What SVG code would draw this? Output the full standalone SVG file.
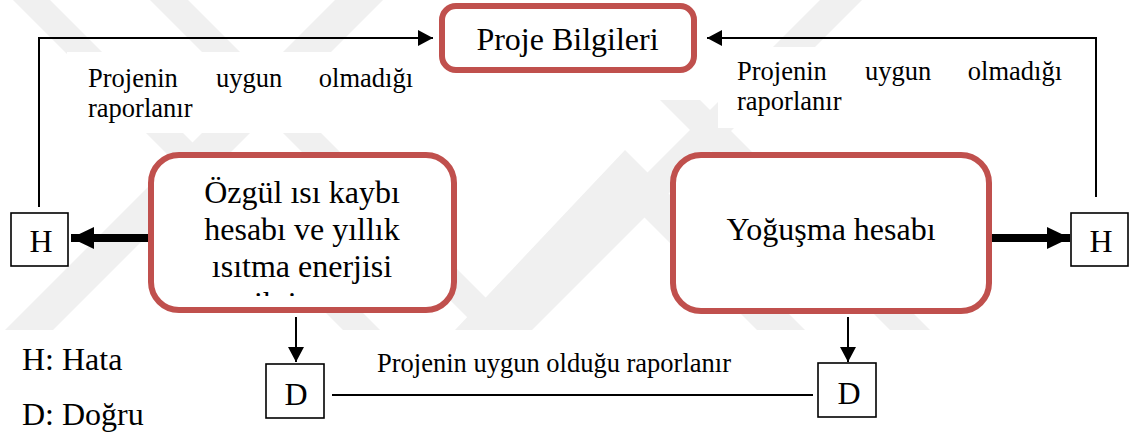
<svg xmlns="http://www.w3.org/2000/svg" width="1142" height="439" viewBox="0 0 1142 439">
<defs>
<style>
.rbox{fill:#fff;stroke:#c0504d;stroke-width:6}
.sbox{fill:#fff;stroke:#000;stroke-width:1.6}
.thin{fill:none;stroke:#000;stroke-width:2}
.thick{fill:none;stroke:#000;stroke-width:8}
.wm{fill:#f0f0f0}
</style>
<marker id="ah" viewBox="0 0 15 16" refX="15" refY="8" markerWidth="15" markerHeight="16" markerUnits="userSpaceOnUse" orient="auto"><path d="M0,0 L15,8 L0,16 Z" fill="#000"/></marker>
<marker id="ahb" viewBox="0 0 23 22" refX="23" refY="11" markerWidth="23" markerHeight="22" markerUnits="userSpaceOnUse" orient="auto"><path d="M0,0 L23,11 L0,22 Z" fill="#000"/></marker>
<clipPath id="clipL"><rect x="150" y="150" width="306" height="146"/></clipPath>
</defs>
<rect width="1142" height="439" fill="#fff"/>
<g id="watermark">
<polygon class="wm" points="13,0 50,0 380,330 343,330"/>
<polygon class="wm" points="150,0 188,0 518,330 480,330"/>
<polygon class="wm" points="335,0 383,0 53,330 5,330"/>
<polygon class="wm" points="820,0 862,0 532,330 490,330"/>
<polygon class="wm" points="455,330 625,150 805,330 757,330 627,200 497,330"/>
<polygon class="wm" points="660,100 700,100 930,330 890,330"/>
</g>
<g id="label-left">
<rect x="67" y="52" width="366" height="81" fill="#fff"/>
<text font-family="Liberation Serif, Times New Roman, serif" font-size="26.5" x="88" y="87">Projenin</text>
<text font-family="Liberation Serif, Times New Roman, serif" font-size="26.5" x="216" y="87">uygun</text>
<text font-family="Liberation Serif, Times New Roman, serif" font-size="26.5" x="413" y="87" text-anchor="end">olmadığı</text>
<text font-family="Liberation Serif, Times New Roman, serif" font-size="26.5" x="88" y="117">raporlanır</text>
</g>
<g id="label-right">
<rect x="718" y="47" width="365" height="81" fill="#fff"/>
<text font-family="Liberation Serif, Times New Roman, serif" font-size="26.5" x="737" y="80">Projenin</text>
<text font-family="Liberation Serif, Times New Roman, serif" font-size="26.5" x="865" y="80">uygun</text>
<text font-family="Liberation Serif, Times New Roman, serif" font-size="26.5" x="1062" y="80" text-anchor="end">olmadığı</text>
<text font-family="Liberation Serif, Times New Roman, serif" font-size="26.5" x="737" y="110">raporlanır</text>
</g>
<g id="label-bottom">
<text font-family="Liberation Serif, Times New Roman, serif" font-size="26.5" x="377" y="372">Projenin uygun olduğu raporlanır</text>
</g>
<g id="connectors">
<path class="thin" d="M39,207 V38 H433" marker-end="url(#ah)"/>
<path class="thin" d="M1096,197 V38 H707" marker-end="url(#ah)"/>
<path class="thick" d="M150,238 H71" marker-end="url(#ahb)"/>
<path class="thick" d="M989,238 H1070" marker-end="url(#ahb)"/>
<path class="thin" d="M296,317 V362" marker-end="url(#ah)"/>
<path class="thin" d="M848,317 V362" marker-end="url(#ah)"/>
<path class="thin" d="M332,395 H813"/>
</g>
<g id="proje-bilgileri">
<rect class="rbox" x="442" y="6" width="252" height="64" rx="14"/>
<text font-family="Liberation Serif, Times New Roman, serif" font-size="32" x="567.5" y="50" text-anchor="middle">Proje Bilgileri</text>
</g>
<g id="ozgul-isi">
<rect class="rbox" x="151" y="155" width="303" height="155" rx="28"/>
<g clip-path="url(#clipL)">
<text font-family="Liberation Serif, Times New Roman, serif" font-size="32" x="302" y="203" text-anchor="middle">Özgül ısı kaybı</text>
<text font-family="Liberation Serif, Times New Roman, serif" font-size="32" x="302" y="240" text-anchor="middle">hesabı ve yıllık</text>
<text font-family="Liberation Serif, Times New Roman, serif" font-size="32" x="302" y="277" text-anchor="middle">ısıtma enerjisi</text>
<text font-family="Liberation Serif, Times New Roman, serif" font-size="32" x="302" y="314" text-anchor="middle">ihtiyacı</text>
</g>
</g>
<g id="yogusma">
<rect class="rbox" x="673" y="155" width="316" height="156" rx="28"/>
<text font-family="Liberation Serif, Times New Roman, serif" font-size="32" x="831" y="240" text-anchor="middle">Yoğuşma hesabı</text>
</g>
<g id="h-left">
<rect class="sbox" x="11" y="213" width="57" height="53"/>
<text font-family="Liberation Serif, Times New Roman, serif" font-size="32" x="41" y="252" text-anchor="middle">H</text>
</g>
<g id="h-right">
<rect class="sbox" x="1071" y="213" width="57" height="53"/>
<text font-family="Liberation Serif, Times New Roman, serif" font-size="32" x="1101" y="252" text-anchor="middle">H</text>
</g>
<g id="d-left">
<rect class="sbox" x="266" y="364" width="58" height="54"/>
<text font-family="Liberation Serif, Times New Roman, serif" font-size="32" x="296" y="405" text-anchor="middle">D</text>
</g>
<g id="d-right">
<rect class="sbox" x="818" y="363" width="58" height="54"/>
<text font-family="Liberation Serif, Times New Roman, serif" font-size="32" x="849" y="404" text-anchor="middle">D</text>
</g>
<g id="legend">
<text font-family="Liberation Serif, Times New Roman, serif" font-size="32" x="22" y="370">H: Hata</text>
<text font-family="Liberation Serif, Times New Roman, serif" font-size="32" x="22" y="425">D: Doğru</text>
</g>
</svg>
